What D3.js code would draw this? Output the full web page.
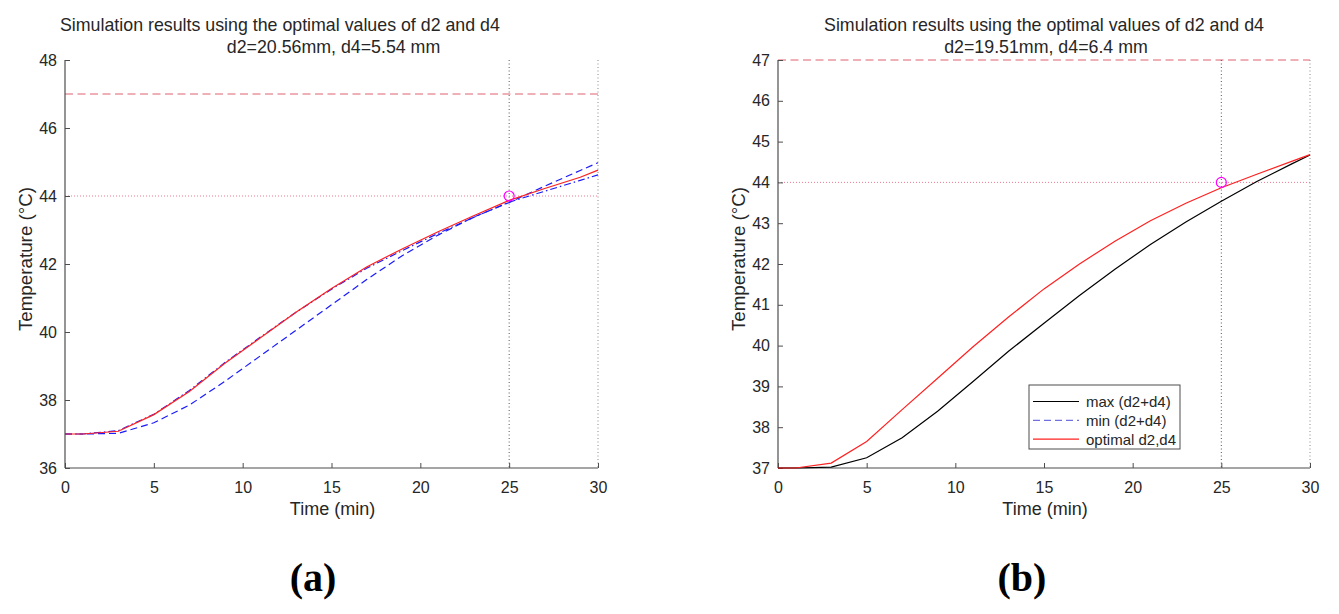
<!DOCTYPE html>
<html>
<head>
<meta charset="utf-8">
<script src="https://cdn.jsdelivr.net/npm/d3@7"></script>
<style>
  html, body { margin: 0; padding: 0; background: #fff; }
  svg { display: block; }
  text { font-family: "Liberation Sans", Arial, Helvetica, sans-serif; fill: #262626; }
</style>
</head>
<body>
<svg id="chart" width="1339" height="614"></svg>
<script>
// ---------------- data ----------------
const timeMin = [0, 1, 3, 5, 7, 9, 11, 13, 15, 17, 19, 21, 23, 25, 27, 29, 30];

// panel (a)
const aOptimal = [37.0, 37.0, 37.08, 37.57, 38.25, 39.08, 39.83, 40.58, 41.28, 41.92, 42.45, 42.95, 43.42, 43.87, 44.22, 44.55, 44.76];
const aMax     = [37.0, 37.0, 37.10, 37.58, 38.28, 39.10, 39.85, 40.58, 41.26, 41.88, 42.40, 42.90, 43.37, 43.82, 44.14, 44.46, 44.62];
const aMin     = [37.0, 37.0, 37.02, 37.33, 37.85, 38.55, 39.30, 40.05, 40.80, 41.55, 42.25, 42.85, 43.38, 43.81, 44.29, 44.75, 44.98];

// panel (b)
const bOptimal = [37.0, 37.0, 37.12, 37.65, 38.43, 39.20, 39.97, 40.70, 41.39, 42.00, 42.56, 43.06, 43.49, 43.87, 44.20, 44.52, 44.68];
const bMax     = [37.0, 37.0, 37.02, 37.25, 37.74, 38.39, 39.12, 39.86, 40.55, 41.23, 41.87, 42.48, 43.03, 43.54, 44.02, 44.46, 44.67];

const xTicks = [0, 5, 10, 15, 20, 25, 30];
const aYTicks = [36, 38, 40, 42, 44, 46, 48];
const bYTicks = [37, 38, 39, 40, 41, 42, 43, 44, 45, 46, 47];

const targetTime = 25;
const endTime = 30;
const targetTemp = 44;
const limitTemp = 47;

const titleLine1 = "Simulation results using the optimal values of d2 and d4";
const aTitleLine2 = "d2=20.56mm, d4=5.54 mm";
const bTitleLine2 = "d2=19.51mm, d4=6.4 mm";
const xLabel = "Time (min)";
const yLabel = "Temperature (°C)";
const legendLabels = ["max (d2+d4)", "min (d2+d4)", "optimal d2,d4"];
const panelLabels = ["(a)", "(b)"];

// ---------------- drawing ----------------
const svg = d3.select("#chart");
const AXIS = "#4d4d4d";

function drawPanel(cfg) {
  const x = d3.scaleLinear().domain([0, 30]).range([cfg.left, cfg.right]);
  const y = d3.scaleLinear().domain(cfg.yDomain).range([cfg.bottom, cfg.top]);
  const g = svg.append("g");

  // reference lines
  g.append("line")
    .attr("x1", x(0)).attr("x2", x(30)).attr("y1", y(limitTemp)).attr("y2", y(limitTemp))
    .attr("stroke", "#e0606e").attr("stroke-width", 1).attr("stroke-dasharray", "8,4.5");
  g.append("line")
    .attr("x1", x(0)).attr("x2", x(30)).attr("y1", y(targetTemp)).attr("y2", y(targetTemp))
    .attr("stroke", "#f07a90").attr("stroke-width", 1).attr("stroke-dasharray", "1,2");
  [targetTime, endTime].forEach((t, i) => {
    g.append("line")
      .attr("x1", x(t)).attr("x2", x(t)).attr("y1", y(cfg.yDomain[1])).attr("y2", y(cfg.yDomain[0]))
      .attr("stroke", i === 0 ? "#555" : "#888").attr("stroke-width", 1).attr("stroke-dasharray", "1,2.5");
  });

  // axes
  const xAxis = d3.axisBottom(x).tickValues(xTicks).tickSize(-5).tickPadding(13.5).tickFormat(d3.format("d"));
  const yAxis = d3.axisLeft(y).tickValues(cfg.yTicks).tickSize(-5).tickPadding(8).tickFormat(d3.format("d"));
  const gx = g.append("g").attr("transform", `translate(0,${cfg.bottom})`).call(xAxis);
  const gy = g.append("g").attr("transform", `translate(${cfg.left},0)`).call(yAxis);
  [gx, gy].forEach(a => {
    a.select(".domain").attr("stroke", AXIS).attr("stroke-width", 1.2);
    a.selectAll(".tick line").attr("stroke", AXIS);
    a.selectAll(".tick text").attr("font-size", 16).attr("fill", "#262626")
      .attr("font-family", '"Liberation Sans", Arial, sans-serif');
  });
  gx.select(".domain").attr("d", `M${cfg.left},0H${cfg.right}`);
  gy.select(".domain").attr("d", `M0,${cfg.bottom}V${cfg.top}`);

  // series
  const line = d3.line().x((d, i) => x(timeMin[i])).y(d => y(d));
  cfg.series.forEach(s => {
    g.append("path").datum(s.values)
      .attr("d", line).attr("fill", "none")
      .attr("stroke", s.color).attr("stroke-width", 1.2)
      .attr("stroke-dasharray", s.dash || null);
  });

  // target marker
  g.append("circle").attr("cx", x(targetTime)).attr("cy", y(targetTemp)).attr("r", 5)
    .attr("fill", "none").attr("stroke", "#ff00ff").attr("stroke-width", 1.2);

  // titles
  g.append("text").attr("x", cfg.title1X).attr("y", 30.5).attr("font-size", 17.8)
    .attr("text-anchor", cfg.title1Anchor).text(titleLine1);
  g.append("text").attr("x", (cfg.left + cfg.right) / 2 + cfg.title2Shift).attr("y", 53).attr("font-size", 17.8)
    .attr("text-anchor", "middle").text(cfg.title2);

  // axis labels
  g.append("text").attr("x", (cfg.left + cfg.right) / 2 + 1).attr("y", 515).attr("font-size", 18)
    .attr("text-anchor", "middle").text(xLabel);
  g.append("text").attr("transform", `translate(${cfg.left - 33.5},${(cfg.top + cfg.bottom) / 2 - 5}) rotate(-90)`)
    .attr("font-size", 18.8).attr("text-anchor", "middle").text(yLabel);

  // panel label
  g.append("text").attr("x", cfg.panelX).attr("y", 591)
    .attr("font-size", 40).attr("font-weight", "bold").attr("text-anchor", "middle")
    .style("font-family", '"Liberation Serif", "DejaVu Serif", serif').style("fill", "#000")
    .text(cfg.panelLabel);

  return { x, y, g };
}

drawPanel({
  left: 65, right: 598, top: 60, bottom: 468,
  yDomain: [36, 48], yTicks: aYTicks,
  series: [
    { values: aMin, color: "#1a1aff", dash: "7,4" },
    { values: aMax, color: "#1a1aff", dash: "7,3,1.5,3" },
    { values: aOptimal, color: "#ff2020" }
  ],
  title1X: 60, title1Anchor: "start", title2: aTitleLine2, title2Shift: 2,
  panelX: 313, panelLabel: panelLabels[0]
});

drawPanel({
  left: 778, right: 1310, top: 60, bottom: 468,
  yDomain: [37, 47], yTicks: bYTicks,
  series: [
    { values: bMax, color: "#000000" },
    { values: bOptimal, color: "#ff2020" }
  ],
  title1X: 1044, title1Anchor: "middle", title2: bTitleLine2, title2Shift: 2,
  panelX: 1022, panelLabel: panelLabels[1]
});

// legend for panel (b)
const legendItems = [
  { label: legendLabels[0], color: "#000000", dash: null },
  { label: legendLabels[1], color: "#7070e0", dash: "7,4" },
  { label: legendLabels[2], color: "#ff2020", dash: null }
];
const lg = svg.append("g").attr("transform", "translate(1029,385)");
lg.append("rect").attr("width", 151).attr("height", 64)
  .attr("fill", "#fff").attr("stroke", "#4d4d4d").attr("stroke-width", 1);
legendItems.forEach((d, i) => {
  const cy = 16.5 + i * 18.8;
  lg.append("line").attr("x1", 4).attr("x2", 50).attr("y1", cy).attr("y2", cy)
    .attr("stroke", d.color).attr("stroke-width", 1.2).attr("stroke-dasharray", d.dash);
  lg.append("text").attr("x", 57).attr("y", cy + 5.5).attr("font-size", 15).text(d.label);
});
</script>
</body>
</html>
